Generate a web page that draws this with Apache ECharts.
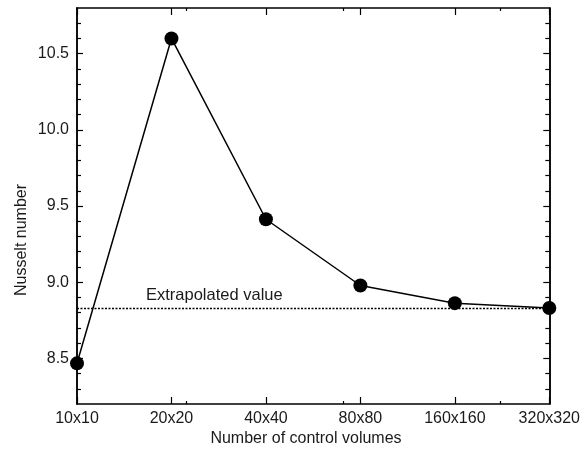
<!DOCTYPE html>
<html>
<head>
<meta charset="utf-8">
<script src="https://cdn.jsdelivr.net/npm/echarts@6/dist/echarts.min.js"></script>
<style>
html,body{margin:0;padding:0;background:#fff;}
#chart{width:583px;height:449px;}
</style>
</head>
<body>
<div id="chart"></div>
<script>
var categories = ['10x10', '20x20', '40x40', '80x80', '160x160', '320x320'];
var nusselt = [8.467, 10.60, 9.413, 8.978, 8.862, 8.830];
var extrapolated = 8.826;
var yMajorTicks = [8.5, 9.0, 9.5, 10.0, 10.5];
var yMinorTicks = [8.3, 8.4, 8.6, 8.7, 8.8, 8.9, 9.1, 9.2, 9.3, 9.4, 9.6, 9.7, 9.8, 9.9, 10.1, 10.2, 10.3, 10.4, 10.6, 10.7];
var xExtraTicks = [1.161, 2.822, 4.483];
var yMin = 8.2, yMax = 10.8;

var FONT = 'Liberation Sans, Arial, Helvetica, sans-serif';
var TXT = '#1a1a1a';
var lineCol = '#000';
var FS = 16;

function catAxis(pos, showLabel) {
  return {
    type: 'category', data: categories, boundaryGap: false, position: pos,
    axisLine: {show: true, lineStyle: {color: lineCol, width: 1.5}},
    axisTick: {show: true, inside: true, length: 7, lineStyle: {color: lineCol, width: 1.2}},
    axisLabel: {show: showLabel, color: TXT, fontSize: FS, fontFamily: FONT, margin: 7},
    splitLine: {show: false}
  };
}
function extraXAxis(pos) {
  return {
    type: 'value', min: 0, max: 5, position: pos,
    axisLine: {show: false},
    axisTick: {show: true, inside: true, length: 3, customValues: xExtraTicks, lineStyle: {color: lineCol, width: 1.2}},
    axisLabel: {show: false},
    splitLine: {show: false}
  };
}
function yAx(pos, ticks, len, showLabel) {
  return {
    type: 'value', min: yMin, max: yMax, position: pos,
    axisLine: {show: true, lineStyle: {color: lineCol, width: 1.5}},
    axisTick: {show: true, inside: true, length: len, customValues: ticks, lineStyle: {color: lineCol, width: 1.2}},
    axisLabel: {show: showLabel, customValues: yMajorTicks, color: TXT, fontSize: FS, fontFamily: FONT, margin: 8,
      formatter: function (v) { return v.toFixed(1); }},
    splitLine: {show: false}
  };
}

var chart = echarts.init(document.getElementById('chart'), null, {renderer: 'canvas'});
chart.setOption({
  animation: false,
  backgroundColor: '#fff',
  grid: {left: 77, right: 33, top: 8, bottom: 45, containLabel: false},
  xAxis: [catAxis('bottom', true), catAxis('top', false), extraXAxis('bottom'), extraXAxis('top')],
  yAxis: [yAx('left', yMajorTicks, 6, true), yAx('left', yMinorTicks, 4, false),
          yAx('right', yMajorTicks, 6, false), yAx('right', yMinorTicks, 4, false)],
  graphic: [
    {type: 'text', x: 22, y: 240, rotation: Math.PI / 2,
     style: {text: 'Nusselt number', fill: TXT, font: FS + 'px ' + FONT, align: 'center', verticalAlign: 'middle'}},
    {type: 'text', x: 306, y: 439,
     style: {text: 'Number of control volumes', fill: TXT, font: FS + 'px ' + FONT, align: 'center', verticalAlign: 'middle'}}
  ],
  series: [{
    type: 'line', xAxisIndex: 0, yAxisIndex: 0, data: nusselt,
    symbol: 'circle', symbolSize: 14,
    itemStyle: {color: '#000'},
    lineStyle: {color: '#000', width: 1.5},
    markLine: {
      silent: true, symbol: 'none',
      lineStyle: {color: '#000', width: 1.3, type: [2, 1.5]},
      label: {show: true, position: 'insideStartTop', formatter: 'Extrapolated value',
              color: TXT, fontSize: 16.5, fontFamily: FONT, distance: [69, 4]},
      data: [{yAxis: extrapolated}]
    },
    z: 5
  }]
});
</script>
</body>
</html>
